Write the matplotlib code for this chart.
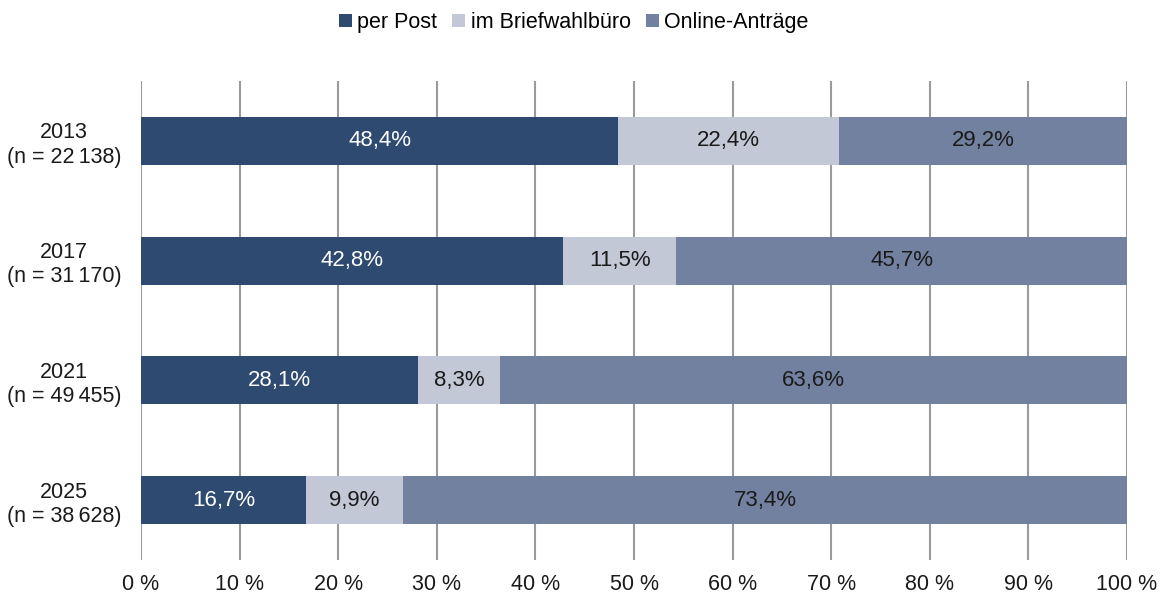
import matplotlib
matplotlib.use("Agg")
import matplotlib.pyplot as plt
from matplotlib.patches import Patch
import numpy as np

plt.rcParams['font.family'] = ['Liberation Sans', 'DejaVu Sans']

years = ["2013", "2017", "2021", "2025"]
sample_sizes = ["22\u2009138", "31\u2009170", "49\u2009455", "38\u2009628"]
series_names = ["per Post", "im Briefwahlbüro", "Online-Anträge"]
per_post = [48.4, 42.8, 28.1, 16.7]
briefwahlbuero = [22.4, 11.5, 8.3, 9.9]
online = [29.2, 45.7, 63.6, 73.4]
xticks = [0, 10, 20, 30, 40, 50, 60, 70, 80, 90, 100]

colors = ["#2e4a70", "#c3c8d7", "#72819f"]
text_colors = ["#ffffff", "#1a1a1a", "#1a1a1a"]

fig = plt.figure(figsize=(11.66, 5.97), dpi=100)
ax = fig.add_axes([141/1166, 1 - 560/597, (1127 - 141)/1166, (560 - 81)/597])

y = np.arange(len(years))
left = np.zeros(len(years))
for vals, c, tc in zip([per_post, briefwahlbuero, online], colors, text_colors):
    vals = np.array(vals)
    ax.barh(y, vals, left=left, height=0.4, color=c, zorder=3)
    for yi, l, v in zip(y, left, vals):
        ax.text(l + v / 2, yi, f"{v:.1f}%".replace(".", ","), ha="center",
                va="center", color=tc, fontsize=16, zorder=4)
    left += vals

ax.set_ylim(len(years) - 0.5, -0.5)
ax.set_xlim(0, 100)
ax.set_yticks(y)
ax.set_yticklabels([f"{yr}\n(n = {n})" for yr, n in zip(years, sample_sizes)],
                   fontsize=15.5, multialignment="center", linespacing=1.2)
ax.set_xticks(xticks)
ax.set_xticklabels([f"{t} %" for t in xticks], fontsize=15.5)
ax.tick_params(axis="both", length=0, colors="#1a1a1a")
ax.tick_params(axis="x", pad=10)
ax.tick_params(axis="y", pad=14)
ax.xaxis.grid(True, color="#9a9a9a", linewidth=1.5, zorder=1)
for s in ax.spines.values():
    s.set_visible(False)

handles = [Patch(facecolor=c, edgecolor="none") for c in colors]
fig.legend(handles, series_names, loc="center", bbox_to_anchor=(0.492, 0.962),
           ncol=3, frameon=False, fontsize=15.5, handlelength=0.6,
           handleheight=0.6, handletextpad=0.25, columnspacing=0.7)

fig.savefig("out.png", dpi=100)
